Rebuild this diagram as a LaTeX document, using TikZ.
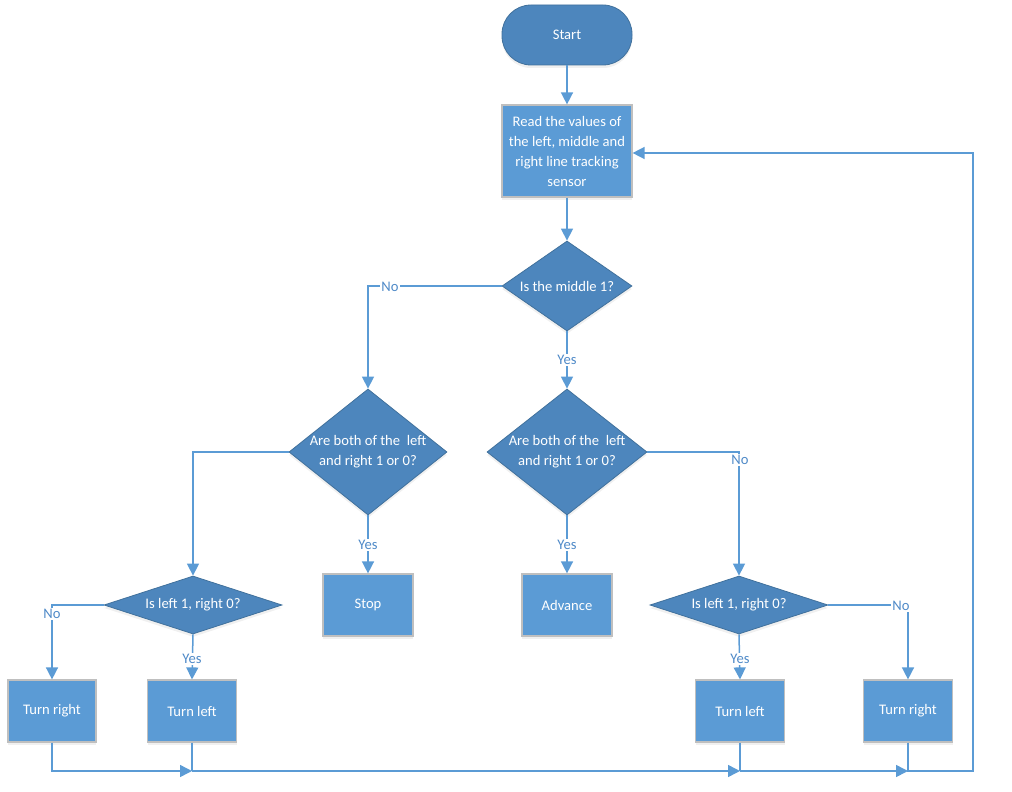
\documentclass[tikz,border=0pt]{standalone}
\usepackage{fontspec}
\setmainfont{Carlito}
\usetikzlibrary{shapes.geometric,arrows.meta,shadows}
\definecolor{boxblue}{HTML}{5B9BD5}
\definecolor{decblue}{HTML}{4D86BD}
\definecolor{decedge}{HTML}{41719C}
\definecolor{boxedge}{HTML}{BFBFBF}
\definecolor{lineblue}{HTML}{5B9BD5}
\definecolor{lblblue}{HTML}{4F8AC8}
\tikzset{
  txt/.style={text=white, font=\fontsize{14.6}{20}\selectfont, align=center},
  shad/.style={drop shadow={opacity=0.12, shadow xshift=0pt, shadow yshift=-3pt}},
  term/.style={txt, shad, rectangle, rounded corners=29pt, fill=decblue, draw=decedge, line width=0.8pt,
    minimum width=130pt, minimum height=60pt},
  proc/.style={txt, shad, rectangle, fill=boxblue, draw=boxedge, line width=1.2pt,
    minimum width=89pt, minimum height=62pt, inner sep=0pt},
  dec/.style={shad, diamond, fill=decblue, draw=decedge, line width=0.8pt, inner sep=0pt},
  lbl/.style={fill=white, text=lblblue, inner sep=1pt, font=\fontsize{14.6}{16}\selectfont},
  link/.style={draw=lineblue, line width=1.5pt},
  flow/.style={link, -{Triangle[length=12pt,width=12pt]}}
}
\begin{document}
\begin{tikzpicture}[x=1pt,y=-1pt]
\useasboundingbox (0,0) rectangle (1012,792);
\node[term] (start) at (567,35) {Start};
\node[proc, minimum width=130pt, minimum height=92pt] (read) at (567,151)
  {Read the values of\\the left, middle and\\right line tracking\\sensor};
\node[dec, minimum width=130pt, minimum height=90pt] (d1) at (567,286) {};
\node[txt] (t1) at (d1) {Is the middle 1?};
\node[dec, minimum width=158pt, minimum height=126pt] (d2) at (368,452) {};
\node[txt] (t2) at (d2) {Are both of the~ left\\and right 1 or 0?};
\node[dec, minimum width=160pt, minimum height=126pt] (d3) at (567,452) {};
\node[txt] (t3) at (d3) {Are both of the~ left\\and right 1 or 0?};
\node[proc, minimum width=90pt] (stop) at (368,605) {Stop};
\node[proc, minimum width=90pt] (adv) at (567,605) {Advance};
\node[dec, minimum width=178pt, minimum height=58pt] (d4) at (193,605) {};
\node[txt] (t4) at (d4) {Is left 1, right 0?};
\node[dec, minimum width=178pt, minimum height=58pt] (d5) at (739,605) {};
\node[txt] (t5) at (d5) {Is left 1, right 0?};
\node[proc, minimum width=88pt] (tr1) at (52,711) {Turn right};
\node[proc] (tl1) at (192,711) {Turn left};
\node[proc] (tl2) at (740,711) {Turn left};
\node[proc] (tr2) at (908,711) {Turn right};
\coordinate (j1) at (192,771);
\coordinate (j2) at (740,771);
\coordinate (j3) at (908,771);
\coordinate (c1) at (973,771);
\coordinate (c2) at (973,153);
% connectors
\draw[flow] (start) -- (read);
\draw[flow] (read) -- (d1);
\draw[flow] (d1.west) -| (d2.north);
\draw[flow] (d1.south) -- (d3.north);
\draw[flow] (d2.south) -- (stop.north);
\draw[flow] (d3.south) -- (adv.north);
\draw[flow] (d2.west) -| (d4.north);
\draw[flow] (d3.east) -| (d5.north);
\draw[flow] (d4.west) -| (tr1.north);
\draw[flow] (d4.south) -- (tl1.north);
\draw[flow] (d5.south) -- (tl2.north);
\draw[flow] (d5.east) -| (tr2.north);
\draw[flow] (tr1.south) |- (j1);
\draw[link] (tl1.south) -- (j1);
\draw[flow] (j1) -- (j2);
\draw[link] (tl2.south) -- (j2);
\draw[flow] (j2) -- (j3);
\draw[flow] (tr2.south) -- (j3) -- (c1) -- (c2) -- (read.east |- c2);
% labels
\node[lbl] (n1) at (390,287) {No};
\node[lbl] (y1) at (567,360) {Yes};
\node[lbl] (y2) at (368,545) {Yes};
\node[lbl] (y3) at (567,545) {Yes};
\node[lbl] (n2) at (740,460) {No};
\node[lbl] (n3) at (52,614) {No};
\node[lbl] (y4) at (192,659) {Yes};
\node[lbl] (y5) at (740,659) {Yes};
\node[lbl] (n4) at (901,606) {No};
\end{tikzpicture}
\end{document}
